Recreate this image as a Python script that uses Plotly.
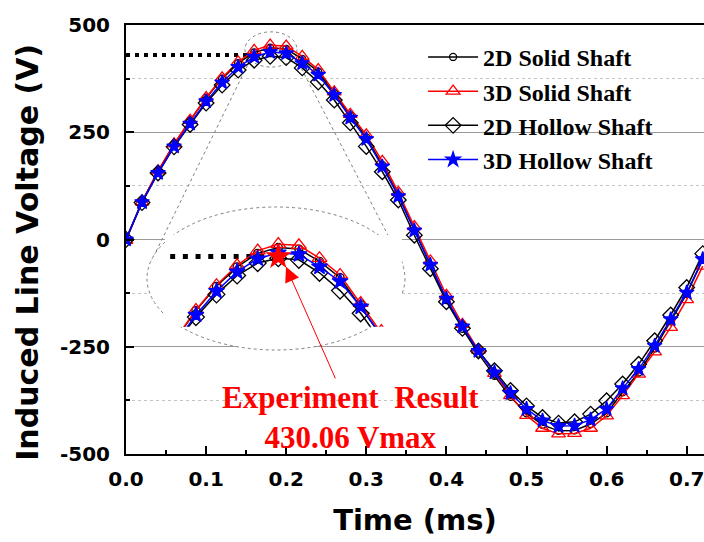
import plotly.graph_objects as go

# Sampling instants (ms)
time_ms = [0.00, 0.02, 0.04, 0.06, 0.08, 0.10, 0.12, 0.14, 0.16, 0.18,
           0.20, 0.22, 0.24, 0.26, 0.28, 0.30, 0.32, 0.34, 0.36, 0.38,
           0.40, 0.42, 0.44, 0.46, 0.48, 0.50, 0.52, 0.54, 0.56, 0.58,
           0.60, 0.62, 0.64, 0.66, 0.68, 0.70, 0.72]

# Induced line voltage (V) for each model
solid_2d = [0, 89, 159, 222, 277, 330, 375, 411, 436, 447,
            444, 421, 391, 341, 289, 238, 174, 104, 22, -60,
            -141, -208, -266, -318, -367, -405, -432, -446, -445, -430,
            -405, -356, -310, -254, -191, -127, -47]
solid_3d = [-2, 88, 160, 223, 278, 331, 377, 414, 441, 453,
            451, 427, 396, 344, 292, 244, 182, 110, 30, -50,
            -130, -198, -258, -312, -364, -410, -440, -453, -452, -440,
            -411, -364, -314, -262, -205, -140, -62]
hollow_2d = [0, 86, 155, 216, 268, 318, 360, 395, 418, 427,
             424, 400, 367, 325, 272, 217, 158, 92, 10, -68,
             -145, -207, -260, -306, -352, -388, -415, -428, -425, -407,
             -376, -337, -291, -236, -176, -112, -33]
hollow_3d = [0, 87, 155, 217, 270, 322, 366, 402, 426, 437,
             434, 411, 384, 337, 284, 234, 170, 101, 21, -59,
             -138, -203, -260, -310, -358, -395, -422, -435, -434, -420,
             -395, -347, -302, -248, -186, -124, -46]

series_names = ["2D Solid Shaft", "3D Solid Shaft", "2D Hollow Shaft", "3D Hollow Shaft"]

# Measured peak
experiment_time = 0.18
experiment_vmax = 430.06

# Axis ticks
y_tick_vals = [-500, -250, 0, 250, 500]
y_tick_text = ["-500", "-250", "0", "250", "500"]

AX_FONT = "DejaVu Sans"
SERIF = "Liberation Serif"

styles = [
    dict(color="black", symbol="circle-open", size=7),
    dict(color="#ff0000", symbol="triangle-up-open", size=12),
    dict(color="black", symbol="diamond-open", size=12),
    dict(color="#0000ff", symbol="star", size=11),
]
series = [solid_2d, solid_3d, hollow_2d, hollow_3d]

fig = go.Figure()

# Reference level of the measured peak (main view)
fig.add_trace(go.Scatter(
    x=[0, 0.155], y=[experiment_vmax, experiment_vmax], mode="lines",
    line=dict(color="black", width=4, dash="4px,5px"),
    showlegend=False, hoverinfo="skip", xaxis="x", yaxis="y"))

for name, vals, st in zip(series_names, series, styles):
    fig.add_trace(go.Scatter(
        x=time_ms, y=vals, name=name, mode="lines+markers",
        line=dict(color=st["color"], width=1.5),
        marker=dict(symbol=st["symbol"], size=st["size"], color=st["color"],
                    line=dict(color=st["color"], width=1.3)),
        xaxis="x", yaxis="y"))

# Magnified view of the peak
fig.add_trace(go.Scatter(
    x=[0.075, experiment_time], y=[experiment_vmax, experiment_vmax], mode="lines",
    line=dict(color="black", width=5, dash="5px,7.7px"),
    showlegend=False, hoverinfo="skip", xaxis="x2", yaxis="y2"))

for name, vals, st in zip(series_names, series, styles):
    fig.add_trace(go.Scatter(
        x=time_ms, y=vals, name=name, mode="lines+markers", showlegend=False,
        line=dict(color=st["color"], width=1.5),
        marker=dict(symbol=st["symbol"], size=st["size"] + 1, color=st["color"],
                    line=dict(color=st["color"], width=1.3)),
        xaxis="x2", yaxis="y2"))

fig.add_trace(go.Scatter(
    x=[experiment_time], y=[experiment_vmax], mode="markers", showlegend=False,
    marker=dict(symbol="star", size=20, color="#ff0000"),
    xaxis="x2", yaxis="y2"))

# Magnifier outline: small ring on the peak, connecting rays, large lens
outline = dict(color="#808080", width=1, dash="dot")
fig.add_shape(type="line", xref="x", yref="y", x0=0.1548, y0=418, x1=0.0312, y1=-52,
              line=outline, layer="between")
fig.add_shape(type="line", xref="x", yref="y", x0=0.2122, y0=423, x1=0.3471, y1=-62,
              line=outline, layer="between")
fig.add_shape(type="circle", xref="x", yref="y", x0=0.0262, y0=-257.6, x1=0.3483, y1=75.8,
              line=outline, fillcolor="white", layer="between")
fig.add_shape(type="circle", xref="x", yref="y", x0=0.1486, y0=402, x1=0.2135, y1=484,
              line=outline, layer="between")

# Arrow to the measured peak and its label
fig.add_annotation(x=0.1875, y=411, xref="x2", yref="y2", axref="pixel", ayref="pixel",
                   ax=50, ay=113, text="", showarrow=True, arrowhead=2, arrowsize=3,
                   arrowwidth=1, arrowcolor="#ff0000", standoff=0)
fig.add_annotation(x=0.389, y=0.0862, xref="paper", yref="paper",
                   xanchor="center", yanchor="middle", showarrow=False,
                   text=f"Experiment  Result<br>{experiment_vmax:.2f} Vmax",
                   font=dict(family=SERIF, size=31, color="#ff0000", weight="bold"))

# Y-axis title
fig.add_annotation(x=-0.1695, y=0.469, xref="paper", yref="paper", textangle=-90,
                   xanchor="center", yanchor="middle", showarrow=False,
                   text="Induced Line Voltage (V)",
                   font=dict(family=AX_FONT, size=30, color="black", weight="bold"))

tickfont = dict(family=AX_FONT, size=20, color="black", weight="bold")

fig.update_layout(
    width=704, height=542,
    margin=dict(l=126, r=0, t=25, b=88),
    plot_bgcolor="white", paper_bgcolor="white",
    showlegend=True,
    legend=dict(x=0.514, y=0.977, xanchor="left", yanchor="top",
                bgcolor="rgba(0,0,0,0)", borderwidth=0, itemwidth=50,
                font=dict(family=SERIF, size=24, color="black", weight="bold"),
                tracegroupgap=0),
    xaxis=dict(range=[0, 578 / 801], tick0=0, dtick=0.1, tickformat=".1f",
               ticks="inside", ticklen=8, tickwidth=1.5, tickcolor="black",
               showline=True, linecolor="black", linewidth=2, mirror=True,
               showgrid=False, zeroline=False, tickfont=tickfont,
               ticklabelstandoff=6, ticklabeloverflow="allow",
               minor=dict(dtick=0.05, tick0=0, ticks="inside", ticklen=4,
                          tickwidth=1.5, tickcolor="black", showgrid=False),
               title=dict(text="Time (ms)", standoff=20,
                          font=dict(family=AX_FONT, size=29, color="black", weight="bold"))),
    yaxis=dict(range=[-500, 500], tickmode="array", tickvals=y_tick_vals, ticktext=y_tick_text,
               ticks="inside", ticklen=8, tickwidth=1.5, tickcolor="black",
               showline=True, linecolor="black", linewidth=2, mirror=False,
               showgrid=True, gridcolor="#9a9a9a", gridwidth=1, zeroline=False,
               tickfont=tickfont, ticklabelstandoff=10,
               minor=dict(tickmode="linear", tick0=-500, dtick=125, ticks="inside",
                          ticklen=4, tickwidth=1.5, tickcolor="black",
                          showgrid=True, gridcolor="#c4c4c4", griddash="dot", gridwidth=1)),
    xaxis2=dict(domain=[0.0675, 0.4773], range=[0.07, 0.30], anchor="y2", visible=False),
    yaxis2=dict(domain=[0.2965, 0.5105], range=[300, 470], anchor="x2", visible=False),
)

fig.write_html("out.html")
